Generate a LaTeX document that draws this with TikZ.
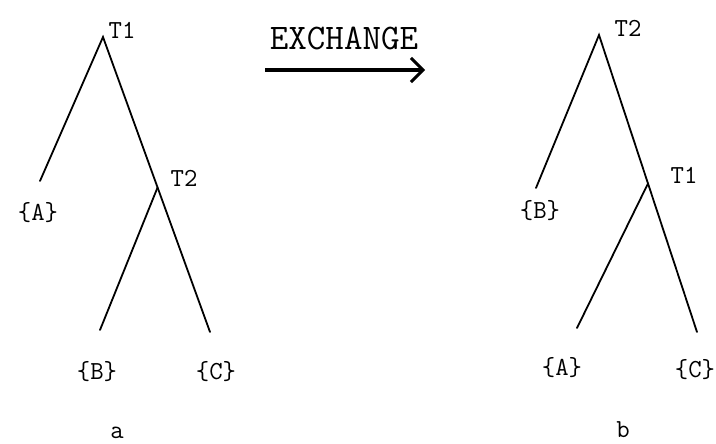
\documentclass[tikz,border=0pt]{standalone}
\usetikzlibrary{arrows.meta,calc}
\begin{document}
\begin{tikzpicture}[x=1pt,y=-1pt,
  branch/.style={line width=1.8pt,line cap=round},
  lbl/.style={font=\fontsize{26}{26}\selectfont\ttfamily,inner sep=0pt},
  oplabel/.style={font=\fontsize{36}{36}\selectfont\ttfamily,inner sep=0pt},
  xarrow/.style={line width=3.6pt,-{Straight Barb[length=12pt,width=24pt,line width=3pt]}}]
\useasboundingbox (0,0) rectangle (716,444);

% left tree: T1 over {A} and T2, T2 over {B} and {C}
\coordinate (aT1) at (103,37);
\coordinate (aA) at (40,181);
\coordinate (aC) at (210,332);
\coordinate (aT2) at ($(aT1)!0.51!(aC)$);
\coordinate (aB) at (100,330);
\draw[branch] (aA) -- (aT1) -- (aC);
\draw[branch] (aT2) -- (aB);
\node[lbl] (aT1l) at (122,30) {T1};
\node[lbl] (aT2l) at (184,178) {T2};
\node[lbl] (aAl) at (38,213) {\{A\}};
\node[lbl] (aBl) at (97,372) {\{B\}};
\node[lbl] (aCl) at (216,372) {\{C\}};
\node[lbl] (acap) at (117,433) {a};

% exchange arrow
\coordinate (xs) at (265,70);
\coordinate (xe) at (425,70);
\draw[xarrow] (xs) -- (xe);
\node[oplabel] (xl) at (344,38) {EXCHANGE};

% right tree: T2 over {B} and T1, T1 over {A} and {C}
\coordinate (bT2) at (599,35);
\coordinate (bB) at (536,188);
\coordinate (bC) at (697,332);
\coordinate (bT1) at ($(bT2)!0.5!(bC)$);
\coordinate (bA) at (577,328);
\draw[branch] (bB) -- (bT2) -- (bC);
\draw[branch] (bT1) -- (bA);
\node[lbl] (bT2l) at (628,28) {T2};
\node[lbl] (bT1l) at (684,175) {T1};
\node[lbl] (bBl) at (540,211) {\{B\}};
\node[lbl] (bAl) at (562,368) {\{A\}};
\node[lbl] (bCl) at (695,370) {\{C\}};
\node[lbl] (bcap) at (623,430) {b};
\end{tikzpicture}
\end{document}
